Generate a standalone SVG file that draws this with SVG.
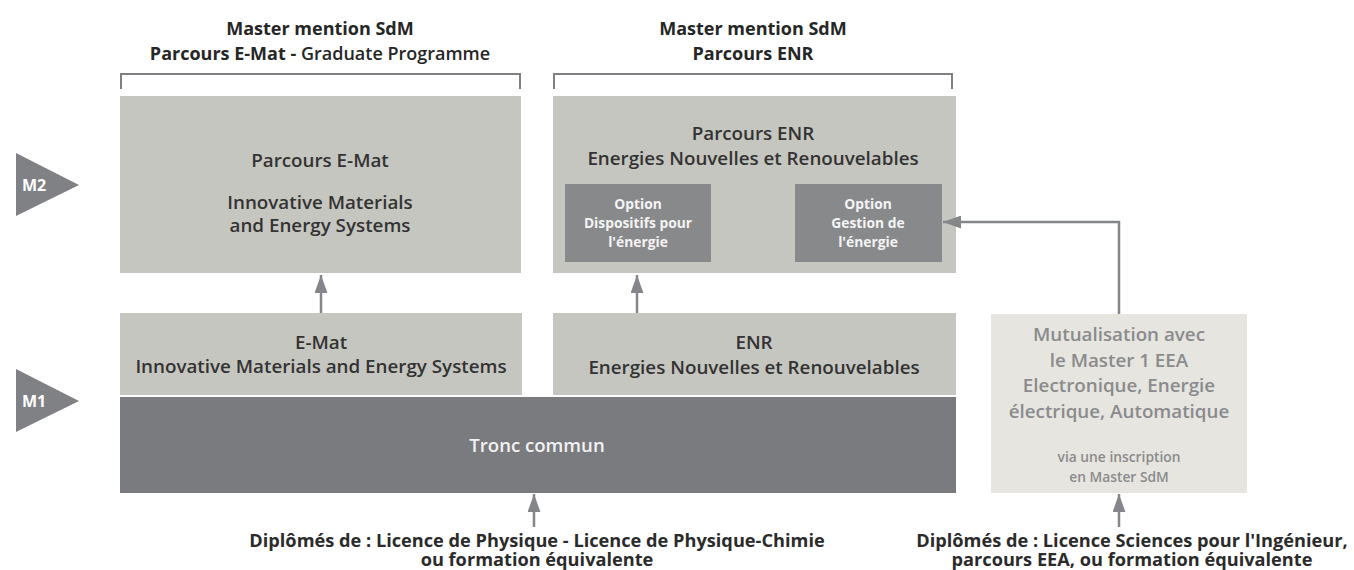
<svg xmlns="http://www.w3.org/2000/svg" width="1354" height="570" viewBox="0 0 1354 570">
<style>
text{font-family:"Open Sans","Noto Sans","Liberation Sans",sans-serif;text-anchor:middle}
.ttl{font-size:18px;font-weight:700;fill:#262626}
.ttlr{font-weight:600}
.lb{fill:#c6c6c0}
.dk{fill:#7a7b7f}
.op{fill:#88898b}
.mu{fill:#e6e5df}
.tri{fill:#808185}
.t1{font-size:18.8px;font-weight:600;fill:#333333}
.tw{font-size:18.6px;font-weight:600;fill:#f2f2f2}
.to{font-size:13.8px;font-weight:700;fill:#f4f4f4}
.tm{font-size:18.8px;font-weight:600;fill:#8a8b8d}
.ts{font-size:13.8px;font-weight:600;fill:#8a8b8d}
.tb{font-size:18.2px;font-weight:700;fill:#2b2b2b}
.tri-t{font-size:16px;font-weight:700;fill:#ffffff;text-anchor:start}
.brk{fill:none;stroke:#7f8084;stroke-width:2}
.con{fill:none;stroke:#85868a;stroke-width:2.5}
</style>
<defs>
<marker id="ah" viewBox="0 0 14 10" refX="14" refY="5" markerWidth="7.2" markerHeight="5.2" orient="auto" markerUnits="strokeWidth">
<path d="M0,0 L14,5 L0,10 z" fill="#85868a"/>
</marker>
</defs>
<rect width="1354" height="570" fill="#ffffff"/>

<g id="title-emat">
<text class="ttl" x="320" y="35">Master mention SdM<tspan x="320" dy="25">Parcours E-Mat - </tspan><tspan class="ttlr">Graduate Programme</tspan></text>
<path class="brk" d="M121,89 V74 H520 V89"/>
</g>
<g id="title-enr">
<text class="ttl" x="753" y="35">Master mention SdM<tspan x="753" dy="25">Parcours ENR</tspan></text>
<path class="brk" d="M554,89 V74 H952 V89"/>
</g>

<g id="m2-label">
<polygon class="tri" points="16,153 79,185 16,216"/>
<text class="tri-t" x="22" y="191">M2</text>
</g>
<g id="m1-label">
<polygon class="tri" points="16,369 79,401 16,432"/>
<text class="tri-t" x="22" y="407">M1</text>
</g>

<g id="m2-emat">
<rect class="lb" x="120" y="96" width="401" height="177"/>
<text class="t1" x="320" y="167">Parcours E-Mat<tspan x="320" dy="42">Innovative Materials</tspan><tspan x="320" dy="23">and Energy Systems</tspan></text>
</g>

<g id="m2-enr">
<rect class="lb" x="553" y="96" width="403" height="177"/>
<text class="t1" x="753" y="140">Parcours ENR<tspan x="753" dy="25">Energies Nouvelles et Renouvelables</tspan></text>
</g>
<g id="opt-dispositifs">
<rect class="op" x="565" y="184" width="146" height="78"/>
<text class="to" x="638" y="209">Option<tspan x="638" dy="19">Dispositifs pour</tspan><tspan x="638" dy="19">l'énergie</tspan></text>
</g>
<g id="opt-gestion">
<rect class="op" x="795" y="184" width="147" height="78"/>
<text class="to" x="868" y="209">Option<tspan x="868" dy="19">Gestion de</tspan><tspan x="868" dy="19">l'énergie</tspan></text>
</g>

<g id="m1-emat">
<rect class="lb" x="120" y="313" width="402" height="82"/>
<text class="t1" x="321" y="349">E-Mat<tspan x="321" dy="24">Innovative Materials and Energy Systems</tspan></text>
</g>
<g id="m1-enr">
<rect class="lb" x="553" y="313" width="403" height="82"/>
<text class="t1" x="754" y="349">ENR<tspan x="754" dy="25">Energies Nouvelles et Renouvelables</tspan></text>
</g>
<g id="tronc">
<rect class="dk" x="120" y="397" width="836" height="96"/>
<text class="tw" x="537" y="452">Tronc commun</text>
</g>

<g id="mutualisation">
<rect class="mu" x="991" y="314" width="256" height="179"/>
<text class="tm" x="1119" y="341">Mutualisation avec<tspan x="1119" dy="26">le Master 1 EEA</tspan><tspan x="1119" dy="25">Electronique, Energie</tspan><tspan x="1119" dy="26">électrique, Automatique</tspan></text>
<text class="ts" x="1119" y="462">via une inscription<tspan x="1119" dy="20">en Master SdM</tspan></text>
</g>

<g id="source-physique">
<text class="tb" x="537" y="547">Diplômés de : Licence de Physique - Licence de Physique-Chimie<tspan x="537" dy="19">ou formation équivalente</tspan></text>
</g>
<g id="source-eea">
<text class="tb" x="1132" y="547">Diplômés de : Licence Sciences pour l'Ingénieur,<tspan x="1132" dy="19">parcours EEA, ou formation équivalente</tspan></text>
</g>

<g id="connectors">
<line class="con" x1="321" y1="313" x2="321" y2="275" marker-end="url(#ah)"/>
<line class="con" x1="637" y1="313" x2="637" y2="275" marker-end="url(#ah)"/>
<line class="con" x1="534" y1="527" x2="534" y2="494" marker-end="url(#ah)"/>
<line class="con" x1="1119" y1="527" x2="1119" y2="494" marker-end="url(#ah)"/>
<path class="con" d="M1119,314 V222 H943" marker-end="url(#ah)"/>
</g>
</svg>
